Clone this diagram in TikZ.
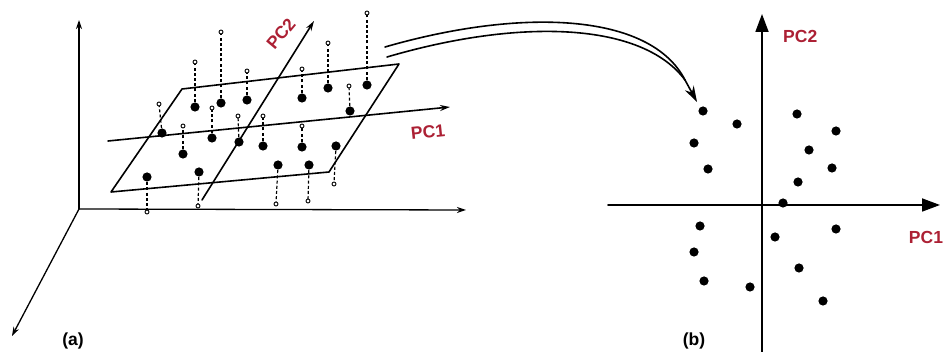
\documentclass[tikz,border=0pt]{standalone}
\usepackage{fontspec}
\setmainfont{Liberation Sans}
\usetikzlibrary{arrows.meta}
\definecolor{pcred}{RGB}{172,32,52}

\begin{document}
\begin{tikzpicture}[x=1pt,y=-1pt,line cap=round,line join=round,every node/.style={inner sep=1pt},
  axis/.style={line width=1.3pt,-{Stealth[length=9pt,width=6pt]}},
  bigaxis/.style={line width=1.8pt,-{Triangle[length=18pt,width=13pt]}},
  plane/.style={line width=1.6pt},
  proj/.style={line width=1.2pt,line cap=butt,dash pattern=on 3pt off 2.2pt},
  opendot/.style={line width=0.9pt,fill=white},
  pclabel/.style={font=\fontsize{17.5}{19}\selectfont\bfseries,text=pcred},
  tag/.style={font=\fontsize{17.5}{19}\selectfont\bfseries}]
  \useasboundingbox (0,0) rectangle (943,352);
  % (a): data cloud and the principal plane
  \begin{scope}
    \coordinate (O) at (79,209);
    \coordinate (zT) at (79,20);
    \coordinate (xR) at (466,210);
    \coordinate (yL) at (12,336);
    \draw[axis] (O) -- (zT);
    \draw[axis] (O) -- (xR);
    \draw[axis] (O) -- (yL);
    \coordinate (p1) at (111,192);
    \coordinate (p2) at (182,89);
    \coordinate (p3) at (399,64);
    \coordinate (p4) at (329,172);
    \draw[plane] (p1) -- (p2) -- (p3) -- (p4) -- cycle;
    \coordinate (pc1a) at (108,141);
    \coordinate (pc1b) at (450,107);
    \coordinate (pc2a) at (202,200);
    \coordinate (pc2b) at (314,21);
    \draw[plane,-{Stealth[length=10pt,width=6pt]}] (pc1a) -- (pc1b);
    \draw[plane,-{Stealth[length=10pt,width=6pt]}] (pc2a) -- (pc2b);
    \node[pclabel,rotate=6] (pc1L) at (428,132) {PC1};
    \node[pclabel,rotate=50] (pc2L) at (281,34) {PC2};
    \foreach \xa/\ya/\xb/\yb in {195/107/195/62, 221/103/221/32, 247/100/247/71,
        302/98/302/69, 328/88/328/43, 367/85/367/13, 350/111/349/86,
        162/133/159/104, 183/154/183/126, 212/138/212/108, 239/142/238/116,
        263/146/263/116, 302/147/302/126, 336/146/334/184, 147/177/147/212,
        199/172/198/206, 278/165/276/204, 309/165/308/201}{
      \draw[proj] (\xa,\ya) -- (\xb,\yb);
      \fill (\xa,\ya) circle (4.6pt);
      \draw[opendot] (\xb,\yb) circle (2pt);
    }
    \node[tag] (tagA) at (73,341) {(a)};
  \end{scope}
  % mapping arrow
  \coordinate (mA) at (385,47);
  \coordinate (mB) at (387,57);
  \coordinate (mJ) at (685,80);
  \coordinate (mT) at (697,102);
  \draw[line width=1.6pt] (mA) .. controls (520,8) and (650,12) .. (mJ);
  \draw[line width=1.6pt] (mB) .. controls (520,18) and (642,22) .. (mJ);
  \draw[line width=1.6pt,-{Stealth[length=16pt,width=10pt]}] (mJ) -- (mT);
  % (b): scores in the PC1/PC2 plane
  \begin{scope}
    \coordinate (Q) at (762,205);
    \coordinate (qB) at (762,352);
    \coordinate (qT) at (762,14);
    \coordinate (qL) at (608,205);
    \coordinate (qR) at (940,205);
    \draw[bigaxis] (qB) -- (qT);
    \draw[bigaxis] (qL) -- (qR);
    \node[pclabel,anchor=west] (pc2R) at (782,36) {PC2};
    \node[pclabel] (pc1R) at (926,237) {PC1};
    \foreach \x/\y in {703/111, 737/124, 694/143, 708/169, 797/114, 836/131,
        809/150, 832/168, 798/182, 783/203, 700/226, 836/229, 775/237,
        694/252, 799/268, 704/281, 750/287, 823/301}{
      \fill (\x,\y) circle (4.6pt);
    }
    \node[tag] (tagB) at (694,341) {(b)};
  \end{scope}
\end{tikzpicture}
\end{document}
